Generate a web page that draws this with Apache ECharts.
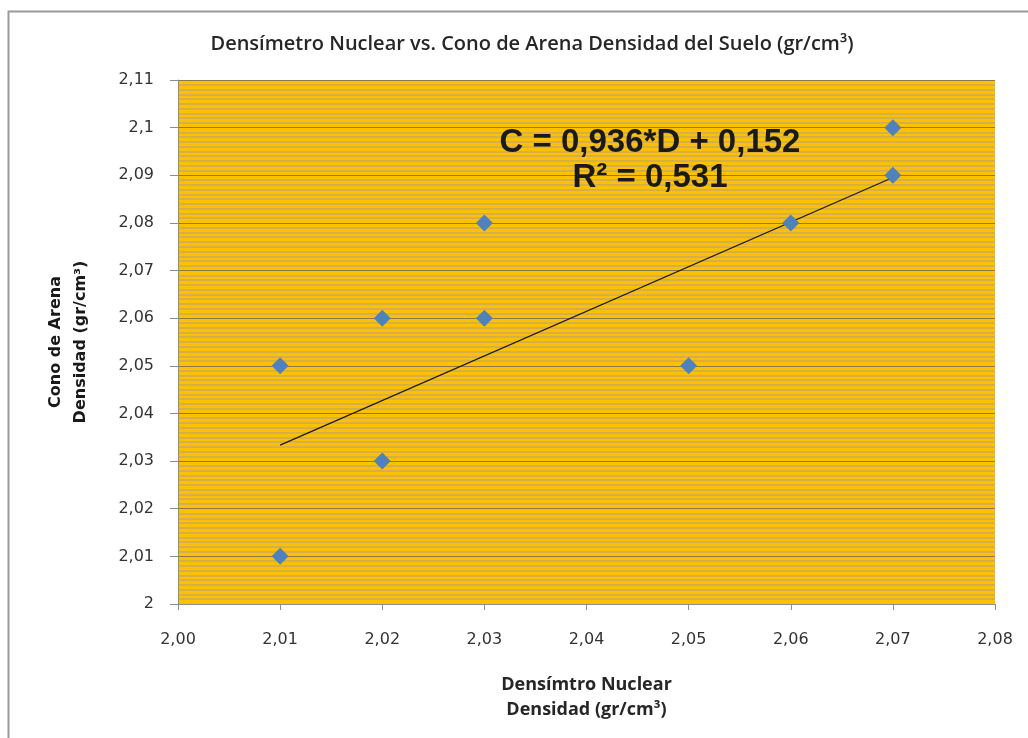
<!DOCTYPE html>
<html>
<head>
<meta charset="utf-8">
<script src="https://cdn.jsdelivr.net/npm/echarts@6/dist/echarts.min.js"></script>
<style>
  html, body { margin: 0; padding: 0; background: #ffffff; }
  #chart { width: 1028px; height: 738px; }
</style>
</head>
<body>
<div id="chart"></div>
<script>
// Densímetro nuclear (x) vs. cono de arena (y), g/cm³
var densimetro = [2.01, 2.01, 2.02, 2.02, 2.03, 2.03, 2.05, 2.06, 2.07, 2.07];
var cono       = [2.05, 2.01, 2.06, 2.03, 2.08, 2.06, 2.05, 2.08, 2.10, 2.09];

// Linear trend: C = slope * D + intercept
var slope = [0.936];
var intercept = [0.152];
var r2 = [0.531];

// Axis ranges
var xRange = [2.00, 2.08];
var yRange = [2.00, 2.11];

function comma(s) { return s.replace('.', ','); }
function fmtNum(v, d) { return comma(v.toFixed(d)); }

var points = densimetro.map(function (x, i) { return [x, cono[i]]; });
var xMin = Math.min.apply(null, densimetro);
var xMax = Math.max.apply(null, densimetro);
var trend = [xMin, xMax].map(function (x) { return [x, slope[0] * x + intercept[0]]; });

var eqFont = 'bold 33px "Liberation Sans", Arial, sans-serif';

var chart = echarts.init(document.getElementById('chart'));
chart.setOption({
  backgroundColor: '#ffffff',
  animation: false,
  title: {
    text: 'Densímetro Nuclear vs. Cono de Arena Densidad del Suelo (gr/cm³)',
    left: 527, top: 29, textAlign: 'center',
    textStyle: { fontFamily: 'Open Sans', fontSize: 20, fontWeight: 600, color: '#262626' }
  },
  graphic: [
    {
      type: 'rect', z: -10, silent: true,
      shape: { x: 8.5, y: 11.5, width: 1040, height: 760 },
      style: { fill: 'none', stroke: '#9a9a9a', lineWidth: 2 }
    },
    {
      type: 'text', z: 100, x: 650, y: 143,
      style: {
        text: 'C = ' + fmtNum(slope[0], 3) + '*D + ' + fmtNum(intercept[0], 3),
        font: eqFont, fill: '#1a1a1a', textAlign: 'center', textVerticalAlign: 'middle'
      }
    },
    {
      type: 'text', z: 100, x: 650, y: 178,
      style: {
        text: 'R² = ' + fmtNum(r2[0], 3),
        font: eqFont, fill: '#1a1a1a', textAlign: 'center', textVerticalAlign: 'middle'
      }
    }
  ],
  grid: { left: 178, top: 80, right: 33, bottom: 134, backgroundColor: '#FFC000', show: true, borderWidth: 0 },
  xAxis: {
    type: 'value', min: xRange[0], max: xRange[1], interval: 0.01,
    name: 'Densímtro Nuclear\nDensidad (gr/cm³)',
    nameLocation: 'middle', nameGap: 68,
    nameTextStyle: { fontFamily: 'Open Sans', fontSize: 18, fontWeight: 'bold', color: '#262626', lineHeight: 25 },
    axisLine: { show: true, lineStyle: { color: '#8c8c8c', width: 1 } },
    axisTick: { show: true, inside: false, length: 6, lineStyle: { color: '#8c8c8c' } },
    axisLabel: { margin: 28, fontFamily: 'DejaVu Sans', fontSize: 16, color: '#333333',
      formatter: function (v) { return fmtNum(v, 2); } },
    splitLine: { show: false }
  },
  yAxis: {
    type: 'value', min: yRange[0], max: yRange[1], interval: 0.01,
    name: 'Cono de Arena\nDensidad (gr/cm³)',
    nameLocation: 'middle', nameGap: 85, nameRotate: 90,
    nameTextStyle: { fontFamily: 'DejaVu Sans', fontSize: 16, fontWeight: 'bold', color: '#1a1a1a', lineHeight: 25 },
    axisLine: { show: true, lineStyle: { color: '#8c8c8c', width: 1 } },
    axisTick: { show: true, inside: false, length: 8, lineStyle: { color: '#8c8c8c' } },
    axisLabel: { margin: 24, fontFamily: 'DejaVu Sans', fontSize: 16, color: '#333333',
      formatter: function (v) { return comma(String(parseFloat(v.toFixed(2)))); } },
    splitLine: { show: true, lineStyle: { color: '#8a7a45', width: 1.2 } },
    minorTick: { show: false, splitNumber: 10 },
    minorSplitLine: { show: true, lineStyle: { color: '#c8aa60', width: 1.6 } }
  },
  series: [
    {
      type: 'scatter', name: 'Datos', data: points,
      symbol: 'diamond', symbolSize: 17,
      itemStyle: { color: '#4F81BD', opacity: 1 }, z: 5
    },
    {
      type: 'line', name: 'Tendencia', data: trend,
      symbol: 'none', lineStyle: { color: '#1a1a1a', width: 1.2 }, z: 4
    }
  ]
});
</script>
</body>
</html>
